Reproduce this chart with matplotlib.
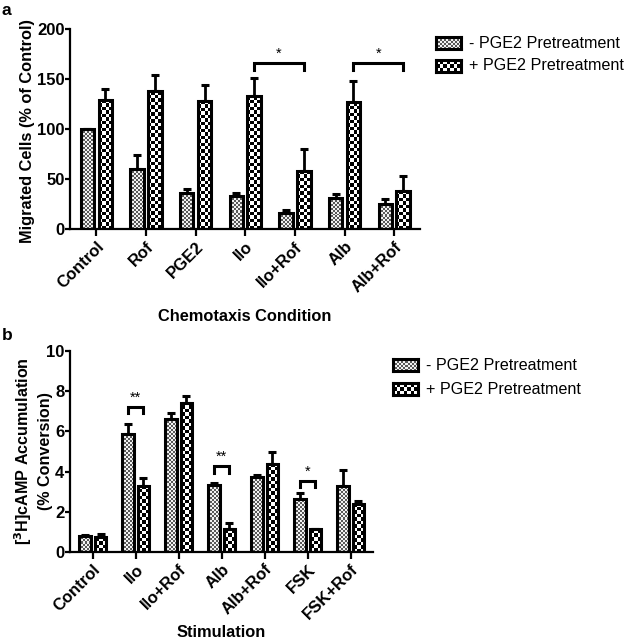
import matplotlib
matplotlib.use("Agg")
import matplotlib.pyplot as plt
import numpy as np

plt.rcParams['font.family'] = ['Liberation Sans', 'DejaVu Sans']

# panel a: chemotaxis
cond_a = ['Control', 'Rof', 'PGE2', 'Ilo', 'Ilo+Rof', 'Alb', 'Alb+Rof']
minus_a = [100, 60, 36, 33, 16, 31, 25]
minus_a_err = [0, 14, 4, 3, 3, 4, 5]
plus_a = [129, 138, 128, 133, 58, 127, 38]
plus_a_err = [11, 16, 16, 18, 22, 21, 15]

# panel b: cAMP accumulation
cond_b = ['Control', 'Ilo', 'Ilo+Rof', 'Alb', 'Alb+Rof', 'FSK', 'FSK+Rof']
minus_b = [0.81, 5.86, 6.60, 3.32, 3.72, 2.64, 3.30]
minus_b_err = [0.02, 0.51, 0.30, 0.13, 0.11, 0.31, 0.78]
plus_b = [0.73, 3.30, 7.43, 1.13, 4.38, 1.13, 2.39]
plus_b_err = [0.15, 0.40, 0.33, 0.33, 0.58, 0.03, 0.15]

labels = ['- PGE2 Pretreatment', '+ PGE2 Pretreatment']

FINE = (2, (0.35, 0.35, 0.35), (0.95, 0.95, 0.95))
COARSE = (3.5, (0.0, 0.0, 0.0), (1.0, 1.0, 1.0))

fig = plt.figure(figsize=(6.29, 6.40), dpi=100)
ax_a = fig.add_axes([0.1113, 0.6417, 0.5564, 0.3125])
ax_b = fig.add_axes([0.1113, 0.1375, 0.4817, 0.314])

W = 0.27
OFF = 0.18


def board(w_px, h_px, sq, dark, light):
    nc = max(1, int(round(w_px / sq)))
    nr = max(1, int(round(h_px / sq)))
    b = np.indices((nr, nc)).sum(axis=0) % 2
    return np.where(b[..., None] == 1, np.array(dark), np.array(light))


def checker(ax, bar, pat):
    # fill a bar with a checkerboard of fixed pixel size
    x0 = bar.get_x()
    x1 = x0 + bar.get_width()
    y0 = bar.get_y()
    y1 = y0 + bar.get_height()
    p0 = ax.transData.transform((x0, y0))
    p1 = ax.transData.transform((x1, y1))
    img = board(abs(p1[0] - p0[0]), abs(p1[1] - p0[1]), *pat)
    im = ax.imshow(img, extent=(x0, x1, y0, y1), interpolation='nearest',
                   aspect='auto', zorder=2, origin='lower')
    im.set_clip_path(bar)


def panel(ax, cats, m, me, p, pe, ymax, step):
    x = np.arange(len(cats))
    ax.set_xlim(-0.53, len(cats) - 0.48)
    ax.set_ylim(0, ymax)
    b1 = ax.bar(x - OFF, m, W, facecolor='none', edgecolor='black', linewidth=2.2, zorder=3)
    b2 = ax.bar(x + OFF, p, W, facecolor='none', edgecolor='black', linewidth=2.2, zorder=3)
    for b in b1:
        checker(ax, b, FINE)
    for b in b2:
        checker(ax, b, COARSE)
    ax.errorbar(x - OFF, m, yerr=[np.zeros(len(m)), me], fmt='none', ecolor='black',
                elinewidth=2, capsize=3, capthick=2.2, zorder=1)
    ax.errorbar(x + OFF, p, yerr=[np.zeros(len(p)), pe], fmt='none', ecolor='black',
                elinewidth=2, capsize=3, capthick=2.2, zorder=1)
    ax.set_yticks(np.arange(0, ymax + step / 2, step))
    ax.set_xticks(x)
    ax.set_xticklabels(cats, rotation=45, ha='right', rotation_mode='anchor',
                       fontsize=12, fontweight='bold')
    for t in ax.get_yticklabels():
        t.set_fontsize(12)
        t.set_fontweight('bold')
    for s in ['top', 'right']:
        ax.spines[s].set_visible(False)
    for s in ['left', 'bottom']:
        ax.spines[s].set_linewidth(1.6)
    ax.tick_params(axis='x', direction='out', width=1.6, length=5, pad=2)
    ax.tick_params(axis='y', direction='out', width=1.6, length=3.5, pad=0.5)


def bracket(ax, x1, x2, y, leg, txt):
    ax.plot([x1, x1, x2, x2], [y - leg, y, y, y - leg], color='black', lw=2.2,
            solid_joinstyle='miter')
    ax.text((x1 + x2) / 2, y + leg * 0.3, txt, ha='center', va='bottom', fontsize=10.5)


def legend(x, y_list):
    # hand-drawn legend, positions in figure pixels (top-left origin)
    for y, pat, lab in zip(y_list, [FINE, COARSE], labels):
        lax = fig.add_axes([x / 629, 1 - (y + 6) / 640, 25 / 629, 12 / 640])
        lax.imshow(board(25, 12, *pat), interpolation='nearest', aspect='auto')
        lax.set_xticks([])
        lax.set_yticks([])
        for s in lax.spines.values():
            s.set_linewidth(2.2)
        fig.text((x + 33) / 629, 1 - y / 640, lab, fontsize=11.6, va='center')


panel(ax_a, cond_a, minus_a, minus_a_err, plus_a, plus_a_err, 200, 50)
ax_a.set_ylabel('Migrated Cells (% of Control)', fontsize=11.8, fontweight='bold')
ax_a.yaxis.set_label_coords(-0.1, 0.49)
ax_a.set_xlabel('Chemotaxis Condition', fontsize=11.8, fontweight='bold', labelpad=10)
bracket(ax_a, 3 + OFF, 4 + OFF, 166, 7, '*')
bracket(ax_a, 5 + OFF, 6 + OFF, 166, 7, '*')

panel(ax_b, cond_b, minus_b, minus_b_err, plus_b, plus_b_err, 10, 2)
ax_b.set_ylabel('[$^\\mathbf{3}$H]cAMP Accumulation\n(% Conversion)', fontsize=11.6,
                fontweight='bold', linespacing=1.35)
ax_b.yaxis.set_label_coords(-0.056, 0.5)
ax_b.set_xlabel('Stimulation', fontsize=11.8, fontweight='bold', labelpad=2)
bracket(ax_b, 1 - OFF, 1 + OFF, 7.23, 0.33, '**')
bracket(ax_b, 3 - OFF, 3 + OFF, 4.28, 0.33, '**')
bracket(ax_b, 5 - OFF, 5 + OFF, 3.55, 0.30, '*')

legend(436, [43, 66])
legend(393, [365, 389])

fig.text(0.003, 0.995, 'a', fontsize=12.5, fontweight='bold', va='top')
fig.text(0.003, 0.488, 'b', fontsize=12.5, fontweight='bold', va='top')

fig.savefig('out.png', dpi=100)
